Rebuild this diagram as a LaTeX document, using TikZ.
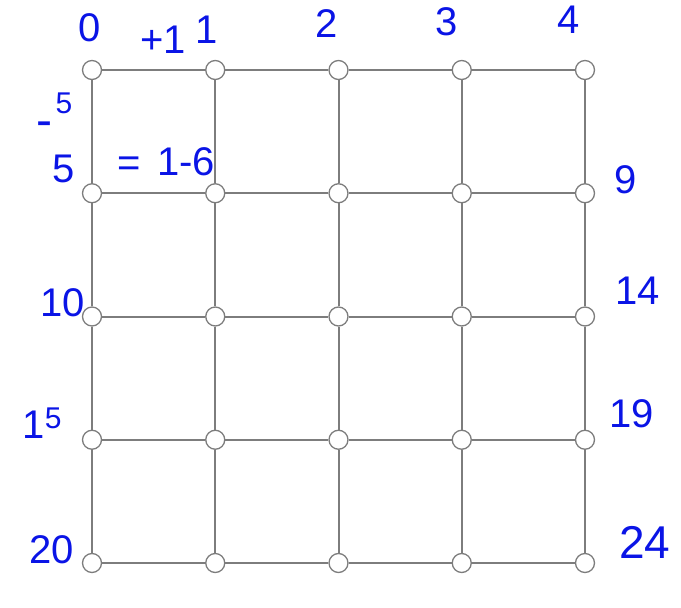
\documentclass[tikz,border=0pt]{standalone}
\usepackage{fontspec}
\setmainfont{Liberation Sans}
\begin{document}
\begin{tikzpicture}[x=1pt,y=-1pt,
  vert/.style={circle,draw=gridgray,fill=white,line width=1.3pt,minimum size=19pt,inner sep=0pt},
  edge/.style={draw=gridgray,line width=2pt},
  lab/.style={text=inkblue,font=\fontsize{40}{40}\selectfont,inner sep=0pt},
  slab/.style={text=inkblue,font=\fontsize{30}{30}\selectfont,inner sep=0pt}]
\definecolor{gridgray}{RGB}{125,125,125}
\definecolor{inkblue}{RGB}{10,20,230}
\useasboundingbox (0,0) rectangle (681,608);
\foreach \i in {0,...,4}{
  \foreach \j in {0,...,4}{
    \node[vert] (n\i\j) at ({92+123.25*\j},{70+123.25*\i}) {};
  }
}
\foreach \i in {0,...,4}{
  \foreach \j [evaluate=\j as \k using int(\j+1)] in {0,...,3}{
    \draw[edge] (n\i\j) -- (n\i\k);
    \draw[edge] (n\j\i) -- (n\k\i);
  }
}
\node[lab] (l0) at (90,28) {0};
\node[lab] (lp1) at (163,40) {+1};
\node[lab] (l1) at (207,30) {1};
\node[lab] (l2) at (327,24) {2};
\node[lab] (l3) at (447,22) {3};
\node[lab] (l4) at (569,20) {4};
\node[lab,font=\fontsize{48}{48}\selectfont] (lm) at (44,129) {-};
\node[slab] (lm5) at (64,103) {5};
\node[lab] (l5) at (64,169) {5};
\node[lab] (leq) at (129,167) {=};
\node[lab] (l16) at (186,162) {1-6};
\node[lab] (l9) at (626,180) {9};
\node[lab] (l10) at (63,303) {10};
\node[lab] (l14) at (638,291) {14};
\node[lab] (l15) at (42,423) {1\raisebox{10pt}{\fontsize{30}{30}\selectfont 5}};
\node[lab] (l19) at (632,414) {19};
\node[lab] (l20) at (52,550) {20};
\node[lab,font=\fontsize{46}{46}\selectfont] (l24) at (645,542) {24};
\end{tikzpicture}
\end{document}
